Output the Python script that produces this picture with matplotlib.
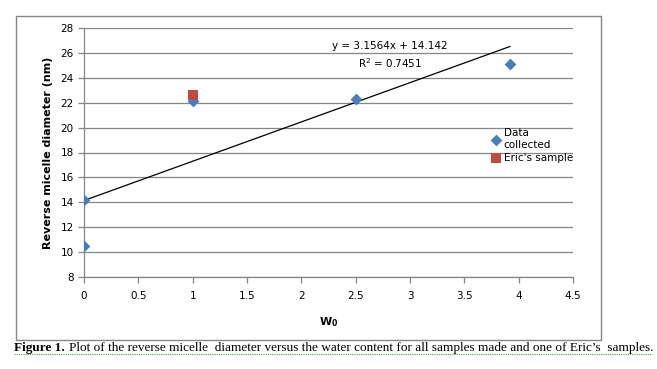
import matplotlib
matplotlib.use("Agg")
import matplotlib.pyplot as plt
from matplotlib.patches import Rectangle

# data
w0 = [0, 0, 1, 2.5, 3.92]
diameter = [10.5, 14.2, 22.1, 22.3, 25.1]
eric_w0 = [1]
eric_diameter = [22.6]
slope, intercept = 3.1564, 14.142
r2 = 0.7451
trend_x = [0, 3.92]

yticks = list(range(8, 29, 2))
xticks = [0, 0.5, 1, 1.5, 2, 2.5, 3, 3.5, 4, 4.5]

plt.rcParams['font.family'] = ['DejaVu Sans']
grey = '#868686'

fig = plt.figure(figsize=(6.57, 3.69), dpi=100)
ax = fig.add_axes([84 / 657, 1 - 277 / 369, (573 - 84) / 657, (277 - 28) / 369])

# outer chart frame
fig.patches.append(Rectangle((16 / 657, 1 - 340 / 369), (601 - 16) / 657, (340 - 16) / 369,
                             transform=fig.transFigure, fill=False, edgecolor=grey, lw=1))

trend_y = [slope * x + intercept for x in trend_x]
ax.plot(trend_x, trend_y, color='black', lw=0.9, zorder=2)
ax.scatter(w0, diameter, marker='D', s=36, color='#4a7ebb', zorder=3,
           label='Data\ncollected', linewidths=0)
ax.scatter(eric_w0, eric_diameter, marker='s', s=55, color='#be4b48', zorder=4,
           label="Eric's sample", linewidths=0)

ax.set_xlim(0, 4.5)
ax.set_ylim(8, 28)
ax.set_xticks(xticks)
ax.set_xticklabels(['0', '0.5', '1', '1.5', '2', '2.5', '3', '3.5', '4', '4.5'])
ax.set_yticks(yticks)
ax.yaxis.grid(True, color=grey, lw=0.9)
ax.set_axisbelow(True)
for s in ['top', 'right']:
    ax.spines[s].set_visible(False)
for s in ['left', 'bottom']:
    ax.spines[s].set_color(grey)
    ax.spines[s].set_linewidth(0.9)
ax.tick_params(colors=grey, labelcolor='black', labelsize=7.5, length=4, width=0.9)
ax.tick_params(axis='x', pad=6)

ax.set_xlabel('W$_\\mathbf{0}$', fontsize=8, fontweight='bold', labelpad=10)
ax.set_ylabel('Reverse micelle diameter (nm)', fontsize=8, fontweight='bold', labelpad=5)

ax.text(390 / 657, 1 - 46 / 369, f'y = {slope}x + {intercept}', transform=fig.transFigure,
        ha='center', va='center', fontsize=7.5)
ax.text(390 / 657, 1 - 63 / 369, f'R$^2$ = {r2}', transform=fig.transFigure,
        ha='center', va='center', fontsize=7.5)

leg = ax.legend(loc='upper left', bbox_to_anchor=(485 / 657, 1 - 123 / 369),
                bbox_transform=fig.transFigure, frameon=False, fontsize=7.5,
                handletextpad=0.1, handlelength=1.2, labelspacing=0.3, borderpad=0)

# caption below the chart
cap_y = 1 - 348 / 369
t1 = fig.text(14 / 657, cap_y, 'Figure 1.', fontsize=9.5, fontweight='bold',
              family='Liberation Serif', va='center')
fig.canvas.draw()
bb = t1.get_window_extent()
fig.text(bb.x1 / 657 + 4 / 657, cap_y,
         "Plot of the reverse micelle  diameter versus the water content for all samples made and one of Eric\u2019s  samples.",
         fontsize=9.5, family='Liberation Serif', va='center')
fig.add_artist(plt.Line2D([14 / 657, 652 / 657], [1 - 354 / 369] * 2, transform=fig.transFigure,
                          color='#3cb043', lw=0.8, ls=(0, (1, 1))))

fig.savefig('out.png', dpi=100)
